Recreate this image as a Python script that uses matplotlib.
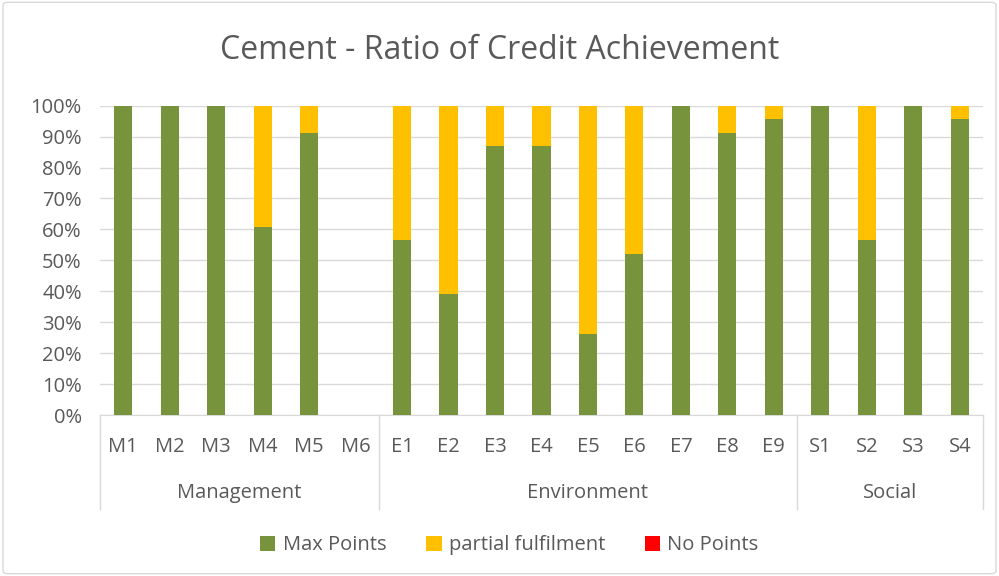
import numpy as np
import matplotlib.pyplot as plt
from matplotlib.patches import FancyBboxPatch

plt.rcParams['font.family'] = ['Open Sans', 'DejaVu Sans']

credits = ['M1', 'M2', 'M3', 'M4', 'M5', 'M6',
           'E1', 'E2', 'E3', 'E4', 'E5', 'E6', 'E7', 'E8', 'E9',
           'S1', 'S2', 'S3', 'S4']
groups = ['Management', 'Environment', 'Social']
group_sizes = [6, 9, 4]

max_points = [1.0, 1.0, 1.0, 0.6087, 0.913, 0.0,
              0.5652, 0.3913, 0.8696, 0.8696, 0.2609, 0.5217, 1.0, 0.913, 0.9565,
              1.0, 0.5652, 1.0, 0.9565]
partial = [0.0, 0.0, 0.0, 0.3913, 0.087, 0.0,
           0.4348, 0.6087, 0.1304, 0.1304, 0.7391, 0.4783, 0.0, 0.087, 0.0435,
           0.0, 0.4348, 0.0, 0.0435]
no_points = [0.0] * 19

txt = '#595959'
fs = 14.5
fig = plt.figure(figsize=(9.99, 5.76), dpi=100)
ax = fig.add_axes([0.1, 0.2795, 0.884, 0.537])

x = np.arange(len(credits))
w = 0.39
ax.bar(x, max_points, w, color='#77933c', label='Max Points', zorder=3)
ax.bar(x, partial, w, bottom=max_points, color='#ffc000', label='partial fulfilment', zorder=3)
ax.bar(x, no_points, w, bottom=np.add(max_points, partial), color='#ff0000', label='No Points', zorder=3)

ax.set_xlim(-0.5, len(credits) - 0.5)
ax.set_ylim(0, 1)
ax.set_yticks(np.arange(0, 1.01, 0.1))
ax.set_yticklabels([f'{int(round(v*100))}%' for v in np.arange(0, 1.01, 0.1)])
ax.yaxis.grid(True, color='#d9d9d9', linewidth=1, zorder=0)
ax.set_xticks(x)
ax.set_xticklabels(credits)
ax.tick_params(axis='both', length=0, colors=txt, labelsize=fs)
ax.tick_params(axis='x', pad=16)
ax.tick_params(axis='y', pad=13)
for s in ['top', 'right', 'left']:
    ax.spines[s].set_visible(False)
ax.spines['bottom'].set_color('#d9d9d9')

# group separators and labels
trans = ax.get_xaxis_transform()
edges = np.concatenate([[0], np.cumsum(group_sizes)]) - 0.5
for e in edges:
    ax.plot([e, e], [0, -0.305], color='#d9d9d9', linewidth=1, transform=trans, clip_on=False)
for i, g in enumerate(groups):
    ax.text((edges[i] + edges[i + 1]) / 2, -0.252, g, transform=trans,
            ha='center', va='center', color=txt, fontsize=fs)

fig.suptitle('Cement - Ratio of Credit Achievement', y=0.913, va='center', color=txt, fontsize=23)

fig.legend(loc='center', bbox_to_anchor=(0.51, 0.053), ncol=3, frameon=False,
           fontsize=fs, labelcolor=txt, handlelength=0.75, handleheight=0.75,
           columnspacing=2.0, handletextpad=0.35)

fig.patches.append(FancyBboxPatch((0.003, 0.004), 0.994, 0.992, boxstyle='round,pad=0,rounding_size=0.005',
                                  transform=fig.transFigure, fill=False, edgecolor='#d9d9d9', linewidth=1))

fig.savefig('out.png', dpi=100)
